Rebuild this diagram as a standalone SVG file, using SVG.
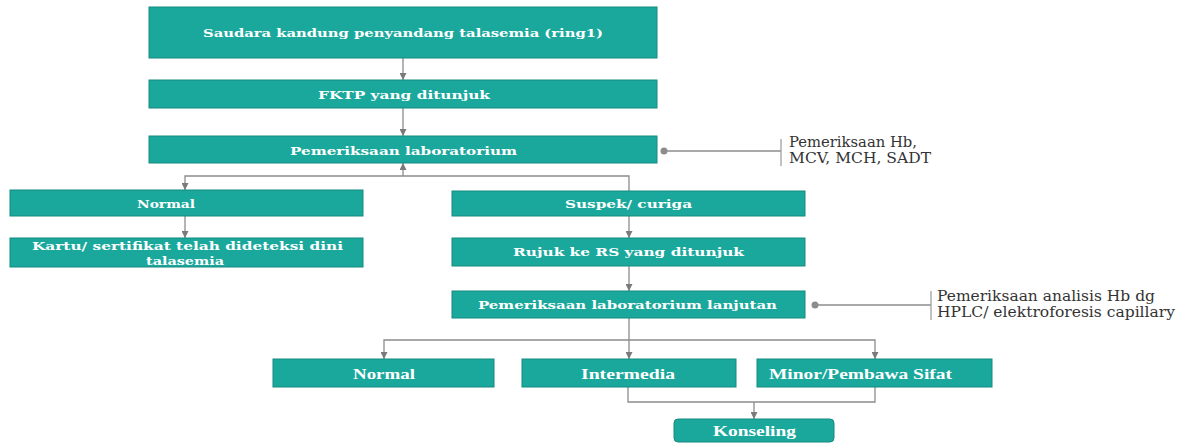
<svg xmlns="http://www.w3.org/2000/svg" width="1190" height="445" viewBox="0 0 1190 445">
<style>
.box{fill:#1aa89c;stroke:#178a80;stroke-width:1}
.bt{fill:#ffffff;font-family:"DejaVu Serif","Liberation Serif",serif;font-weight:bold;font-size:11px;text-anchor:middle}
.bt2{fill:#ffffff;font-family:"Liberation Serif","DejaVu Serif",serif;font-weight:bold;font-size:14px;text-anchor:middle}
.note{fill:#333333;font-family:"DejaVu Serif","Liberation Serif",serif;font-size:14px}
.ln{fill:none;stroke:#8c8c8c;stroke-width:1.3}
.tick{fill:none;stroke:#a0a0a0;stroke-width:1.3}
.dot{fill:#8c8c8c}
</style>
<defs>
<marker id="ah" viewBox="0 0 10 10" refX="10" refY="5" markerWidth="7" markerHeight="7" markerUnits="userSpaceOnUse" orient="auto">
<path d="M0,0 L10,5 L0,10 Z" fill="#7a7a7a"/>
</marker>
</defs>
<rect width="1190" height="445" fill="#ffffff"/>
<g id="connectors">
<line class="ln" x1="403" y1="58" x2="403" y2="80" marker-end="url(#ah)"/>
<line class="ln" x1="403" y1="108" x2="403" y2="136" marker-end="url(#ah)"/>
<line class="ln" x1="403" y1="176" x2="403" y2="163" marker-end="url(#ah)"/>
<polyline class="ln" points="629,191 629,176 185,176 185,190" marker-end="url(#ah)"/>
<line class="ln" x1="185" y1="216" x2="185" y2="238" marker-end="url(#ah)"/>
<line class="ln" x1="629" y1="216" x2="629" y2="238" marker-end="url(#ah)"/>
<line class="ln" x1="629" y1="266" x2="629" y2="291" marker-end="url(#ah)"/>
<line class="ln" x1="629" y1="318" x2="629" y2="359" marker-end="url(#ah)"/>
<polyline class="ln" points="629,340 384,340 384,359" marker-end="url(#ah)"/>
<polyline class="ln" points="629,340 875,340 875,359" marker-end="url(#ah)"/>
<polyline class="ln" points="628,387 628,402 875,402 875,387"/>
<line class="ln" x1="754" y1="402" x2="754" y2="419" marker-end="url(#ah)"/>
<circle class="dot" cx="664" cy="151" r="3.5"/>
<line class="ln" x1="664" y1="151" x2="781" y2="151"/>
<line class="tick" x1="781" y1="139" x2="781" y2="166"/>
<circle class="dot" cx="815" cy="305" r="3.5"/>
<line class="ln" x1="815" y1="305" x2="931" y2="305"/>
<line class="tick" x1="931" y1="291" x2="931" y2="320"/>
</g>
<g id="n1"><rect class="box" x="149" y="7" width="508" height="51"/><text class="bt" x="403" y="37" textLength="400" lengthAdjust="spacingAndGlyphs">Saudara kandung penyandang talasemia (ring1)</text></g>
<g id="n2"><rect class="box" x="149" y="80" width="508" height="28"/><text class="bt" x="404" y="99" textLength="172" lengthAdjust="spacingAndGlyphs">FKTP yang ditunjuk</text></g>
<g id="n3"><rect class="box" x="149" y="136" width="508" height="27"/><text class="bt" x="403.5" y="155" textLength="227" lengthAdjust="spacingAndGlyphs">Pemeriksaan laboratorium</text></g>
<g id="note1"><text class="note" x="789" y="147" textLength="128" lengthAdjust="spacingAndGlyphs">Pemeriksaan Hb,</text><text class="note" x="789" y="163" textLength="142" lengthAdjust="spacingAndGlyphs">MCV, MCH, SADT</text></g>
<g id="n4"><rect class="box" x="10" y="190" width="353" height="26"/><text class="bt" x="166" y="208" textLength="58" lengthAdjust="spacingAndGlyphs">Normal</text></g>
<g id="n5"><rect class="box" x="10" y="238" width="353" height="29"/><text class="bt" x="187.5" y="250" textLength="311" lengthAdjust="spacingAndGlyphs">Kartu/ sertifikat telah dideteksi dini</text><text class="bt" x="185" y="265" textLength="78" lengthAdjust="spacingAndGlyphs">talasemia</text></g>
<g id="n6"><rect class="box" x="452" y="191" width="353" height="25"/><text class="bt" x="628.5" y="208" textLength="127" lengthAdjust="spacingAndGlyphs">Suspek/ curiga</text></g>
<g id="n7"><rect class="box" x="452" y="238" width="353" height="28"/><text class="bt" x="628.5" y="256" textLength="231" lengthAdjust="spacingAndGlyphs">Rujuk ke RS yang ditunjuk</text></g>
<g id="n8"><rect class="box" x="452" y="291" width="353" height="27"/><text class="bt" x="627.5" y="309" textLength="299" lengthAdjust="spacingAndGlyphs">Pemeriksaan laboratorium lanjutan</text></g>
<g id="note2"><text class="note" x="937" y="301" textLength="218" lengthAdjust="spacingAndGlyphs">Pemeriksaan analisis Hb dg</text><text class="note" x="937" y="317" textLength="238" lengthAdjust="spacingAndGlyphs">HPLC/ elektroforesis capillary</text></g>
<g id="n9"><rect class="box" x="273" y="359" width="221" height="28"/><text class="bt2" x="384" y="379" textLength="62" lengthAdjust="spacingAndGlyphs">Normal</text></g>
<g id="n10"><rect class="box" x="522" y="359" width="214" height="28"/><text class="bt2" x="628" y="379" textLength="94" lengthAdjust="spacingAndGlyphs">Intermedia</text></g>
<g id="n11"><rect class="box" x="757" y="359" width="235" height="28"/><text class="bt2" x="860.5" y="379" textLength="183" lengthAdjust="spacingAndGlyphs">Minor/Pembawa Sifat</text></g>
<g id="n12"><rect class="box" x="674" y="419" width="160" height="23" rx="4" ry="4"/><text class="bt2" x="754.5" y="436" textLength="83" lengthAdjust="spacingAndGlyphs">Konseling</text></g>
</svg>
